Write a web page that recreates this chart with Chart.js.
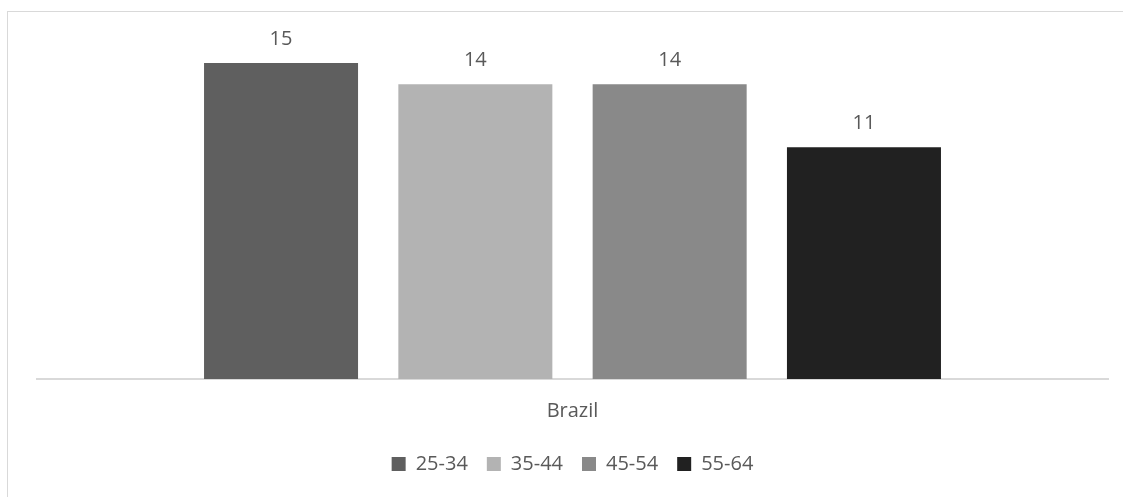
<!DOCTYPE html>
<html>
<head>
<meta charset="utf-8">
<script src="https://cdn.jsdelivr.net/npm/chart.js@4.4.1/dist/chart.umd.min.js"></script>
<style>
  html, body { margin: 0; padding: 0; background: #ffffff; overflow: hidden; }
  #wrap { position: relative; width: 1123px; height: 497px; }
  #frame { position: absolute; left: 7px; top: 11px; width: 1200px; height: 600px;
           border-left: 1px solid #d9d9d9; border-top: 1px solid #d9d9d9; }
  canvas { position: absolute; left: 0; top: 0; }
</style>
</head>
<body>
<div id="wrap">
  <div id="frame"></div>
  <canvas id="c" width="1123" height="497"></canvas>
</div>
<script>
const categories = ["Brazil"];
const seriesNames = ["25-34", "35-44", "45-54", "55-64"];
const seriesValues = [[15], [14], [14], [11]];
const seriesColors = ["#5f5f5f", "#b3b3b3", "#898989", "#212121"];

const FONT = "'Open Sans', sans-serif";
const TEXT = "#595959";

const valueLabels = {
  id: "valueLabels",
  afterDatasetsDraw(chart) {
    const ctx = chart.ctx;
    ctx.save();
    ctx.font = "20px " + FONT;
    ctx.fillStyle = TEXT;
    ctx.textAlign = "center";
    ctx.textBaseline = "alphabetic";
    chart.data.datasets.forEach((ds, i) => {
      const meta = chart.getDatasetMeta(i);
      meta.data.forEach((bar, j) => {
        ctx.fillText(String(ds.data[j]), bar.x, bar.y - 18);
      });
    });
    ctx.restore();
  }
};

new Chart(document.getElementById("c"), {
  type: "bar",
  data: {
    labels: categories,
    datasets: seriesNames.map((n, i) => ({
      label: n,
      data: seriesValues[i],
      backgroundColor: seriesColors[i],
      borderWidth: 0,
      categoryPercentage: 0.7257,
      barPercentage: 0.7926
    }))
  },
  options: {
    responsive: false,
    animation: false,
    devicePixelRatio: 1,
    layout: { padding: { left: 37, right: 15, top: 42, bottom: 13 } },
    plugins: {
      tooltip: { enabled: false },
      legend: {
        position: "bottom",
        labels: {
          font: { family: FONT, size: 20 },
          color: TEXT,
          boxWidth: 14,
          boxHeight: 14,
          padding: 19
        }
      }
    },
    scales: {
      x: {
        grid: { display: false, drawTicks: false },
        border: { display: true, color: "#d9d9d9", width: 2 },
        ticks: { font: { family: FONT, size: 20 }, color: TEXT, padding: 20 },
        afterFit(axis) { axis.height -= 8; }
      },
      y: {
        display: false,
        min: 0,
        max: 16
      }
    }
  },
  plugins: [valueLabels]
});
</script>
</body>
</html>
